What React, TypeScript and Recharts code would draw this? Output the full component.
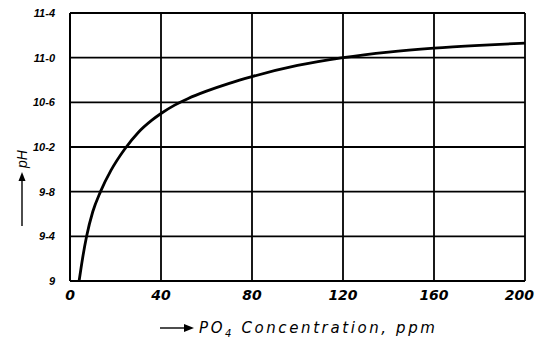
import React from "react";
import {
  LineChart,
  Line,
  XAxis,
  YAxis,
  CartesianGrid,
} from "recharts";

// PO4 concentration (ppm) vs pH
const concentration = [4, 5.5, 7.3, 10, 13.4, 18, 24, 30, 36, 40, 46, 52, 60, 70, 80, 100, 120, 140, 160, 180, 200];
const phValues = [9.0, 9.2, 9.4, 9.62, 9.8, 9.99, 10.18, 10.33, 10.44, 10.5, 10.575, 10.635, 10.7, 10.77, 10.83, 10.93, 11.0, 11.05, 11.085, 11.11, 11.13];

const xTicks = [0, 40, 80, 120, 160, 200];
const yTicks = [9, 9.4, 9.8, 10.2, 10.6, 11.0, 11.4];
const yTickLabels = ["9", "9-4", "9-8", "10-2", "10-6", "11-0", "11-4"];

const data = concentration.map((c, i) => ({ c, ph: phValues[i] }));

const FONT = "'Liberation Sans', Arial, sans-serif";
const WIDE_FONT = "'DejaVu Sans', sans-serif";

// last label sits inside the frame, as in the figure
const XTick = (props: any) => {
  const { x, y, payload } = props;
  const last = payload.value === xTicks[xTicks.length - 1];
  return (
    <text
      x={last ? x + 9 : x}
      y={y}
      dy="0.71em"
      textAnchor={last ? "end" : "middle"}
      fill="#000"
      fontSize={14}
      fontWeight="bold"
      fontStyle="italic"
      fontFamily={WIDE_FONT}
    >
      {payload.value}
    </text>
  );
};

const App: React.FC = () => {
  return (
    <div style={{ position: "absolute", left: 0, top: 0, width: 538, height: 339, background: "#fff" }}>
      <LineChart
        width={538}
        height={339}
        data={data}
        margin={{ top: 13, right: 13, left: 0, bottom: 0 }}
      >
        <CartesianGrid stroke="#000" strokeWidth={1.8} />
        <XAxis
          dataKey="c"
          type="number"
          domain={[0, 200]}
          ticks={xTicks}
          height={58}
          tickSize={0}
          tickMargin={9}
          axisLine={{ stroke: "#000", strokeWidth: 2 }}
          tick={<XTick />}
        />
        <YAxis
          type="number"
          domain={[9, 11.4]}
          ticks={yTicks}
          width={70}
          tickSize={0}
          tickMargin={15}
          axisLine={{ stroke: "#000", strokeWidth: 2 }}
          tickFormatter={(v: number) => yTickLabels[yTicks.indexOf(v)] ?? String(v)}
          tick={{ fill: "#000", fontSize: 11, fontWeight: "bold", fontStyle: "italic", fontFamily: FONT }}
        />
        <Line
          dataKey="ph"
          type="monotone"
          stroke="#000"
          strokeWidth={2.8}
          dot={false}
          isAnimationActive={false}
        />
      </LineChart>
      {/* axis titles */}
      <svg width={538} height={339} style={{ position: "absolute", left: 0, top: 0, pointerEvents: "none" }}>
        <g fontFamily={WIDE_FONT} fontStyle="italic" fill="#000">
          <line x1={160} y1={328} x2={186} y2={328} stroke="#000" strokeWidth={1.4} />
          <polygon points="194,328 184,324 184,332" fill="#000" />
          <text x={199} y={333} fontSize={15} letterSpacing={2.6}>
            PO<tspan fontSize={10} dy={4}>4</tspan>
            <tspan dy={-4}> Concentration, ppm</tspan>
          </text>
          <text x={27} y={168} fontSize={14} fontFamily={FONT} transform="rotate(-90 27 168)">pH</text>
          <line x1={22} y1={226} x2={22} y2={180} stroke="#000" strokeWidth={1.4} />
          <polygon points="22,172 18.5,181 25.5,181" fill="#000" />
        </g>
      </svg>
    </div>
  );
};

export default App;
